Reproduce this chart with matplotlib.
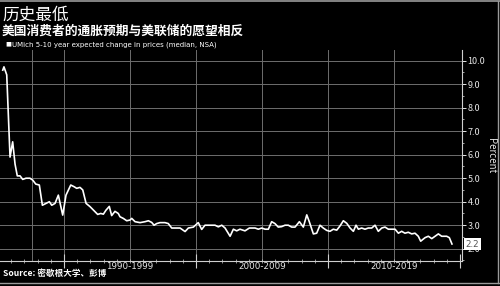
import matplotlib
matplotlib.use('Agg')
import matplotlib.pyplot as plt
import matplotlib.transforms as mtransforms
import numpy as np

plt.rcParams['font.family'] = ['Noto Sans CJK SC', 'DejaVu Sans']

title = '历史最低'
subtitle = '美国消费者的通胀预期与美联储的愿望相反'
legend_label = 'UMich 5-10 year expected change in prices (median, NSA)'
source = 'Source: 密歇根大学、彭博'

# values (year, percent)
years = [1985.36, 1985.45, 1985.66, 1985.91, 1986.11, 1986.29, 1986.46, 1986.67, 1986.87,
         1987.12, 1987.42, 1987.63, 1987.86, 1988.13, 1988.36, 1988.64, 1988.89, 1989.07,
         1989.32, 1989.57, 1989.90, 1990.15, 1990.51, 1990.76, 1990.96, 1991.21, 1991.42,
         1991.67, 1991.97, 1992.35, 1992.55, 1992.78, 1992.98, 1993.18, 1993.43, 1993.61,
         1993.86, 1994.11, 1994.24, 1994.49, 1994.75, 1995.00, 1995.13, 1995.38, 1995.76,
         1996.14, 1996.39, 1996.64, 1996.82, 1997.02, 1997.27, 1997.65, 1997.90, 1998.16,
         1998.41, 1998.79, 1999.17, 1999.42, 1999.80, 2000.17, 2000.43, 2000.68, 2001.06,
         2001.44, 2001.69, 2001.95, 2002.20, 2002.58, 2002.83, 2003.08, 2003.33, 2003.71,
         2004.04, 2004.47, 2004.72, 2004.98, 2005.23, 2005.48, 2005.73, 2005.98, 2006.23,
         2006.49, 2006.74, 2006.99, 2007.25, 2007.50, 2007.83, 2008.13, 2008.39, 2008.58,
         2008.89, 2009.14, 2009.39, 2009.64, 2009.90, 2010.15, 2010.40, 2010.66, 2010.91,
         2011.16, 2011.42, 2011.67, 2011.92, 2012.12, 2012.30, 2012.55, 2012.80, 2013.05,
         2013.31, 2013.56, 2013.81, 2014.07, 2014.32, 2014.57, 2014.83, 2015.08, 2015.33,
         2015.58, 2015.83, 2016.08, 2016.34, 2016.59, 2016.84, 2017.02, 2017.35, 2017.60,
         2017.86, 2018.11, 2018.36, 2018.61, 2018.99, 2019.19, 2019.39]
values = [9.6, 9.74, 9.4, 5.9, 6.55, 5.6, 5.1, 5.1, 4.95,
          5.0, 5.0, 4.92, 4.75, 4.71, 3.85, 3.93, 4.0, 3.85,
          3.93, 4.28, 3.43, 4.28, 4.71, 4.64, 4.57, 4.61, 4.5,
          3.93, 3.79, 3.57, 3.46, 3.5, 3.47, 3.64, 3.8, 3.41,
          3.59, 3.5, 3.36, 3.29, 3.19, 3.22, 3.29, 3.15, 3.11,
          3.15, 3.19, 3.12, 3.0, 3.07, 3.11, 3.11, 3.07, 2.88,
          2.88, 2.88, 2.73, 2.88, 2.92, 3.11, 2.82, 3.0, 3.0,
          3.0, 2.93, 3.0, 2.88, 2.53, 2.83, 2.76, 2.83, 2.76,
          2.88, 2.88, 2.83, 2.88, 2.83, 2.83, 3.15, 3.07, 2.92,
          2.94, 3.0, 3.0, 2.92, 2.92, 3.15, 2.92, 3.44, 3.15,
          2.63, 2.66, 3.0, 2.88, 2.78, 2.74, 2.83, 2.79, 2.97,
          3.19, 3.08, 2.88, 2.74, 3.0, 2.83, 2.88, 2.83, 2.88,
          2.88, 3.0, 2.74, 2.88, 2.92, 2.83, 2.83, 2.83, 2.66,
          2.74, 2.66, 2.7, 2.63, 2.66, 2.53, 2.32, 2.47, 2.53,
          2.43, 2.53, 2.63, 2.53, 2.53, 2.47, 2.2]

decade_starts = [1990, 2000, 2010]
decade_labels = ['1990-1999', '2000-2009', '2010-2019']
y_ticks = [2, 3, 4, 5, 6, 7, 8, 9, 10]

bg = 'black'
grid_c = '#6e6e6e'
fg = '#e6e6e6'

fig = plt.figure(figsize=(5, 2.86), dpi=100, facecolor=bg)
ax = fig.add_axes([0.0, 0.0885, 0.924, 0.7365], facecolor=bg)

ax.plot(years, values, color='white', lw=1.2, zorder=3)

ax.set_xlim(1985.15, 2020.15)
ax.set_ylim(1.49, 10.455)

# grid
for gx in [1987.6, 1990, 1995, 2000, 2005, 2010, 2015]:
    ax.axvline(gx, color=grid_c, lw=0.7, zorder=1)
for gy in y_ticks:
    ax.axhline(gy, color=grid_c, lw=0.7, zorder=1)

# axes styling
for s in ['left', 'top']:
    ax.spines[s].set_visible(False)
for s in ['right', 'bottom']:
    ax.spines[s].set_color('#cfcfcf')
    ax.spines[s].set_linewidth(0.8)

ax.yaxis.tick_right()
ax.yaxis.set_label_position('right')
ax.set_yticks(y_ticks)
ax.set_yticklabels(['%.1f' % v for v in y_ticks])
ax.set_yticks(np.arange(1.5, 10.5, 0.5), minor=True)
ax.tick_params(axis='y', which='major', colors=fg, labelsize=6.5, length=3, width=0.7, pad=1)
ax.tick_params(axis='y', which='minor', colors=fg, length=1.5, width=0.5)
ax.set_ylabel('Percent', color=fg, fontsize=7, rotation=270, labelpad=8)

ax.set_xticks(decade_starts + [2020])
ax.set_xticklabels([])
ax.set_xticks(np.arange(1986, 2020), minor=True)
ax.tick_params(axis='x', which='major', colors='#cfcfcf', length=10, width=0.8, direction='inout')
ax.tick_params(axis='x', which='minor', colors='#cfcfcf', length=2.5, width=0.5, direction='inout')

xtrans = mtransforms.blended_transform_factory(ax.transData, ax.transAxes)
for d, lab in zip(decade_starts, decade_labels):
    ax.text(d + 5, -0.008, lab, transform=xtrans, ha='center', va='top',
            color=fg, fontsize=6.3, family='DejaVu Sans')

# last value box
ytrans = mtransforms.blended_transform_factory(ax.transAxes, ax.transData)
ax.annotate('%.1f' % values[-1], xy=(1.0, values[-1]), xycoords=ytrans,
            xytext=(2.5, 0), textcoords='offset points', ha='left', va='center',
            fontsize=6.3, color='#555555', family='DejaVu Sans', annotation_clip=False,
            bbox=dict(boxstyle='square,pad=0.2', fc='white', ec='none'), zorder=5)

# titles
fig.text(0.004, 0.975, title, color='white', fontsize=12, ha='left', va='top')
fig.text(0.004, 0.912, subtitle, color='white', fontsize=9.2, ha='left', va='top', weight='bold')
fig.text(0.01, 0.845, '\u25a0', color='white', fontsize=4.5, ha='left', va='center', family='DejaVu Sans')
fig.text(0.024, 0.845, legend_label, color='white', fontsize=5.0, ha='left', va='center', family='DejaVu Sans')
fig.text(0.006, 0.045, source, color='white', fontsize=6.2, ha='left', va='center', weight='bold')

# frame lines
fig.add_artist(plt.Line2D([0, 1], [0.996, 0.996], color='#9a9a9a', lw=1.2, transform=fig.transFigure))
fig.add_artist(plt.Line2D([0, 1], [0.012, 0.012], color='#9a9a9a', lw=1.0, transform=fig.transFigure))
fig.add_artist(plt.Line2D([0.996, 0.996], [0.012, 0.996], color='#9a9a9a', lw=1.0, transform=fig.transFigure))

fig.savefig('out.png', dpi=100, facecolor=bg)
plt.close()
